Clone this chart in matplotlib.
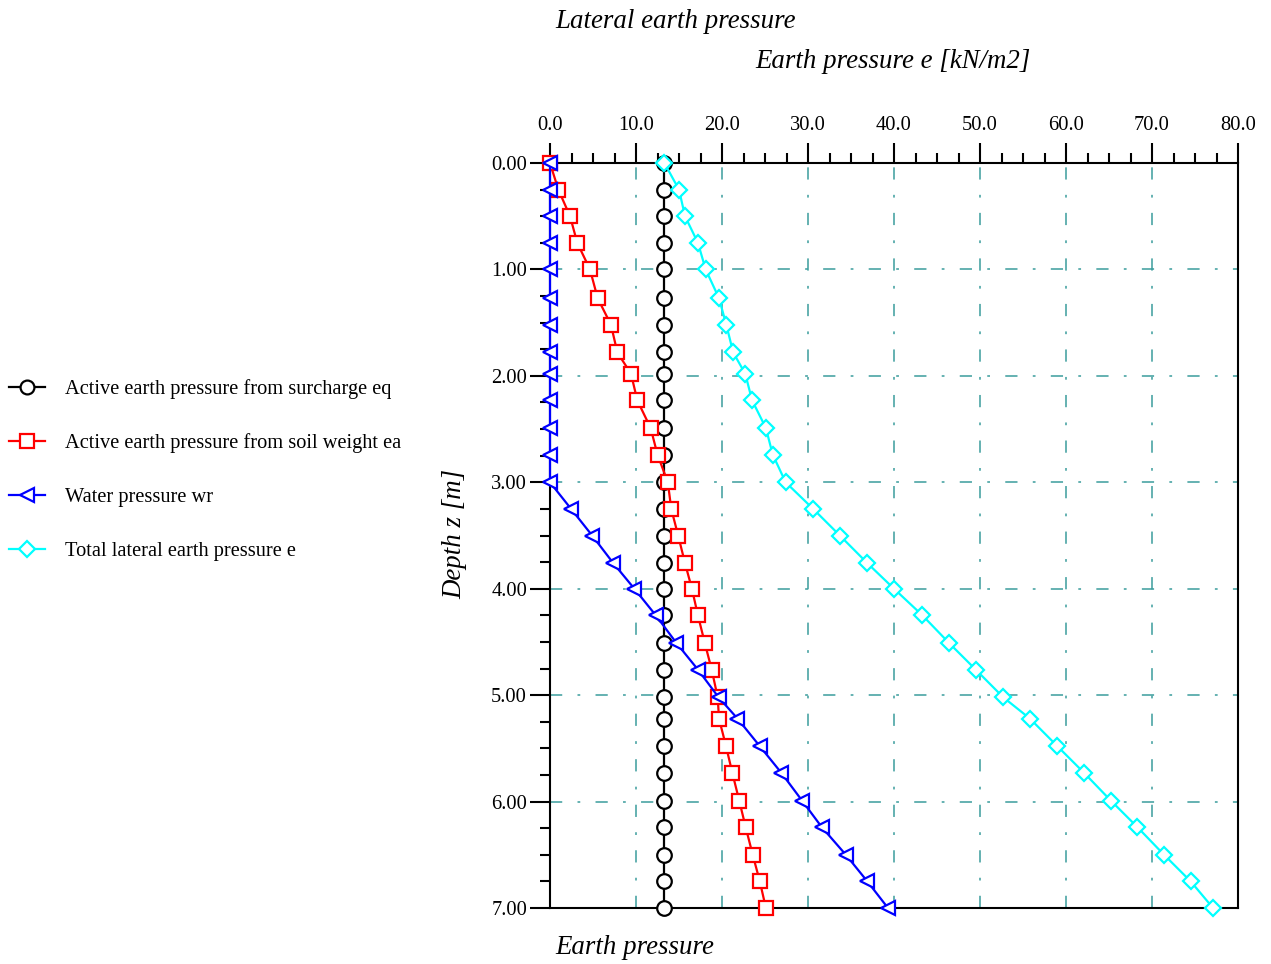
import matplotlib
matplotlib.use("Agg")
import matplotlib.pyplot as plt
from matplotlib.ticker import MultipleLocator, FormatStrFormatter

plt.rcParams["font.family"] = ["Liberation Serif", "DejaVu Serif"]

# depth of each computed point [m]
depth = [0.00, 0.25, 0.50, 0.75, 1.00, 1.27, 1.52, 1.78, 1.98, 2.23, 2.49, 2.74,
         3.00, 3.25, 3.50, 3.76, 4.00, 4.25, 4.51, 4.76, 5.02, 5.22, 5.48, 5.73,
         5.99, 6.24, 6.50, 6.75, 7.00]

# earth pressure components [kN/m2]
eq = [13.3] * len(depth)
ea = [0.0, 0.97, 2.33, 3.17, 4.65, 5.54, 7.09, 7.83, 9.42, 10.15, 11.7, 12.5,
      13.7, 14.1, 14.9, 15.7, 16.5, 17.2, 18.0, 18.8, 19.5, 19.65, 20.47, 21.2,
      22.0, 22.75, 23.57, 24.4, 25.1]
wr = [0.0, 0.0, 0.0, 0.0, 0.0, 0.0, 0.0, 0.0, 0.0, 0.0, 0.0, 0.0,
      0.0, 2.45, 4.9, 7.36, 9.81, 12.3, 14.7, 17.2, 19.6, 21.8, 24.4, 26.9,
      29.3, 31.6, 34.4, 36.9, 39.3]
e_tot = [13.3, 15.0, 15.7, 17.2, 18.1, 19.65, 20.5, 21.3, 22.7, 23.5, 25.1, 25.9,
         27.4, 30.6, 33.7, 36.9, 40.0, 43.3, 46.4, 49.5, 52.7, 55.8, 59.0, 62.1,
         65.2, 68.3, 71.4, 74.5, 77.1]

labels = ["Active earth pressure from surcharge eq",
          "Active earth pressure from soil weight ea",
          "Water pressure wr",
          "Total lateral earth pressure e"]

W, H = 1271, 964
fig = plt.figure(figsize=(W / 100, H / 100), dpi=100)
ax = fig.add_axes([550 / W, 1 - 908 / H, (1238 - 550) / W, (908 - 163) / H])

grid_col = "#3a9c9c"
ax.grid(True, which="major", color=grid_col, lw=1.1,
        linestyle=(0, (8, 10, 1.8, 10)), zorder=0)
ax.set_axisbelow(True)

series = [
    (eq, "black", "o", 10.5),
    (ea, "red", "s", 10.5),
    (wr, "blue", "<", 10.5),
    (e_tot, "cyan", "D", 8.5),
]
handles = []
for (vals, col, mk, ms), lab in zip(series, labels):
    h, = ax.plot(vals, depth, color=col, lw=1.6, marker=mk, ms=ms,
                 mfc="white", mec=col, mew=1.6, clip_on=False, zorder=3,
                 label=lab)
    handles.append(h)

ax.set_xlim(0, 80)
ax.set_ylim(7, 0)

ax.xaxis.set_ticks_position("top")
ax.xaxis.set_label_position("top")
ax.xaxis.set_major_locator(MultipleLocator(10))
ax.xaxis.set_minor_locator(MultipleLocator(2.5))
ax.xaxis.set_major_formatter(FormatStrFormatter("%.1f"))
ax.yaxis.set_major_locator(MultipleLocator(1))
ax.yaxis.set_minor_locator(MultipleLocator(0.25))
ax.yaxis.set_major_formatter(FormatStrFormatter("%.2f"))

ax.tick_params(axis="x", which="major", direction="out", length=14.5, width=1.5,
               labelsize=14.8, pad=6, top=True, bottom=False)
ax.tick_params(axis="x", which="minor", direction="out", length=7.5, width=1.5,
               top=True, bottom=False)
ax.tick_params(axis="y", which="major", direction="out", length=14.5, width=1.5,
               labelsize=14.8, pad=2, left=True, right=False)
ax.tick_params(axis="y", which="minor", direction="out", length=7, width=1.5,
               left=True, right=False)

for s in ax.spines.values():
    s.set_linewidth(1.5)
    s.set_color("black")

fig.text(555 / W, 1 - 21 / H, "Lateral earth pressure", fontsize=19.4,
         style="italic", ha="left", va="center")
fig.text(755 / W, 1 - 62 / H, "Earth pressure e [kN/m2]", fontsize=19.4,
         style="italic", ha="left", va="center")
fig.text(555 / W, 1 - 947 / H, "Earth pressure", fontsize=19.4,
         style="italic", ha="left", va="center")
fig.text(455 / W, 1 - 534 / H, "Depth z [m]", fontsize=19.4, style="italic",
         rotation=90, ha="center", va="center")

fig.legend(handles=handles, loc="center left",
           bbox_to_anchor=(9 / W, 1 - 470 / H), frameon=False,
           fontsize=14.7, handlelength=1.75, handletextpad=1.0,
           labelspacing=1.7, borderpad=0, borderaxespad=0, markerscale=0.95)

fig.savefig("out.png", dpi=100)
